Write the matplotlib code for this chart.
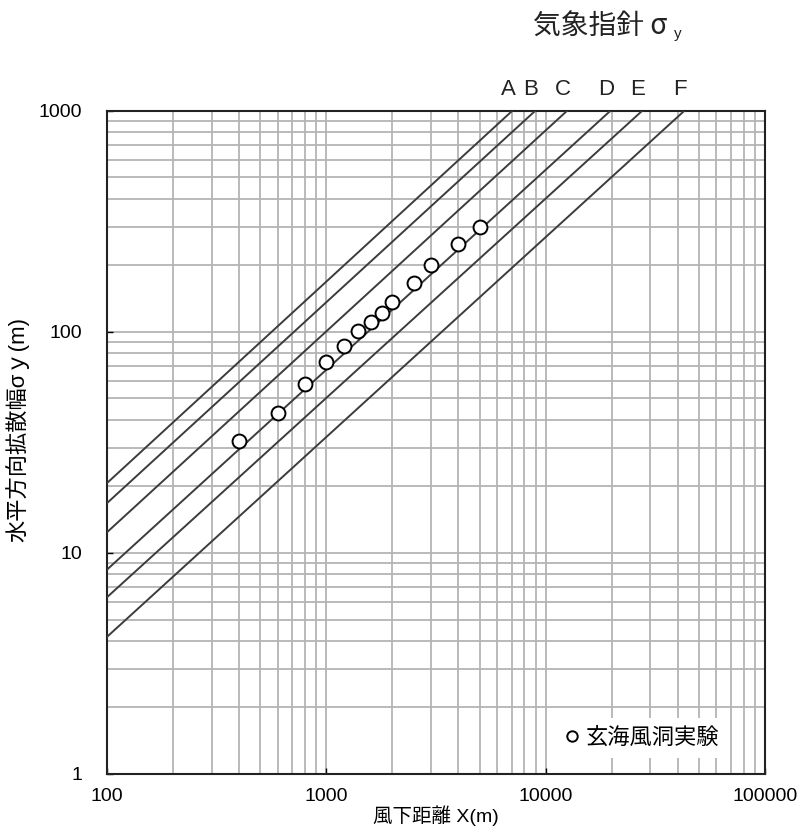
import matplotlib.pyplot as plt

plt.rcParams['font.family'] = ['Liberation Sans', 'Noto Sans CJK JP', 'DejaVu Sans']

# Stability classes: sigma_y at X = 100 m, and X where sigma_y reaches 1000 m
classes = ['A', 'B', 'C', 'D', 'E', 'F']
x_start = [100, 100, 100, 100, 100, 100]
sigma_start = [20.7, 16.8, 12.4, 8.4, 6.3, 4.17]
x_end = [7030, 8950, 12500, 19700, 27500, 42800]
sigma_end = [1000, 1000, 1000, 1000, 1000, 1000]

# Wind tunnel measurements
exp_x = [400, 600, 800, 1000, 1200, 1400, 1600, 1800, 2000, 2500, 3000, 4000, 5000]
exp_sigma = [32, 43, 58, 73, 86, 101, 111, 122, 137, 167, 201, 250, 298]

fig = plt.figure(figsize=(8.04, 8.4), dpi=100)
ax = fig.add_axes([0.133, 0.0786, 0.8185, 0.7893])

ax.set_xscale('log')
ax.set_yscale('log')
ax.set_xlim(100, 100000)
ax.set_ylim(1, 1000)

ax.grid(True, which='both', color='#b4b4b4', linewidth=1.3)
ax.set_axisbelow(True)

for name, x0, y0, x1, y1 in zip(classes, x_start, sigma_start, x_end, sigma_end):
    ax.plot([x0, x1], [y0, y1], color='#3c3c3c', linewidth=1.4, zorder=3)
    ax.annotate(name, xy=(x1, y1), xytext=(-3, 8), textcoords='offset points',
                ha='center', va='bottom', fontsize=16, color='#222222')

ax.plot(exp_x, exp_sigma, linestyle='none', marker='o', markersize=10,
        markerfacecolor='white', markeredgecolor='black', markeredgewidth=1.4,
        zorder=4, label='玄海風洞実験')

ax.set_xticks([100, 1000, 10000, 100000])
ax.set_xticklabels(['100', '1000', '10000', '100000'])
ax.set_yticks([1, 10, 100, 1000])
ax.set_yticklabels(['1', '10', '100', '1000'])
ax.tick_params(which='major', direction='in', length=4, width=1, labelsize=14)
ax.tick_params(axis='x', pad=10)
ax.tick_params(axis='y', pad=18)
ax.tick_params(which='minor', length=0)

for spine in ax.spines.values():
    spine.set_linewidth(1.5)
    spine.set_color('#222222')

ax.set_xlabel('風下距離 X(m)', fontsize=14, labelpad=0)
ax.set_ylabel('水平方向拡散幅σｙ(m)', fontsize=16)
ax.yaxis.set_label_coords(-0.118, 0.52)

leg = ax.legend(loc='lower right', bbox_to_anchor=(0.96, 0.008), fontsize=16,
                frameon=True, handletextpad=0.1, markerscale=0.75, handlelength=1.0)
leg.get_frame().set_edgecolor('none')
leg.get_frame().set_facecolor('white')
leg.get_frame().set_alpha(1)

title = fig.text(0.663, 0.968, '気象指針 σ', fontsize=20, ha='left', va='center',
                 family=['Noto Sans CJK JP', 'DejaVu Sans'], color='#222222')
fig.canvas.draw()
bb = title.get_window_extent().transformed(fig.transFigure.inverted())
fig.text(bb.x1 + 0.008, 0.960, 'y', fontsize=11, ha='left', va='center', color='#222222')

fig.savefig('out.png', dpi=100)
